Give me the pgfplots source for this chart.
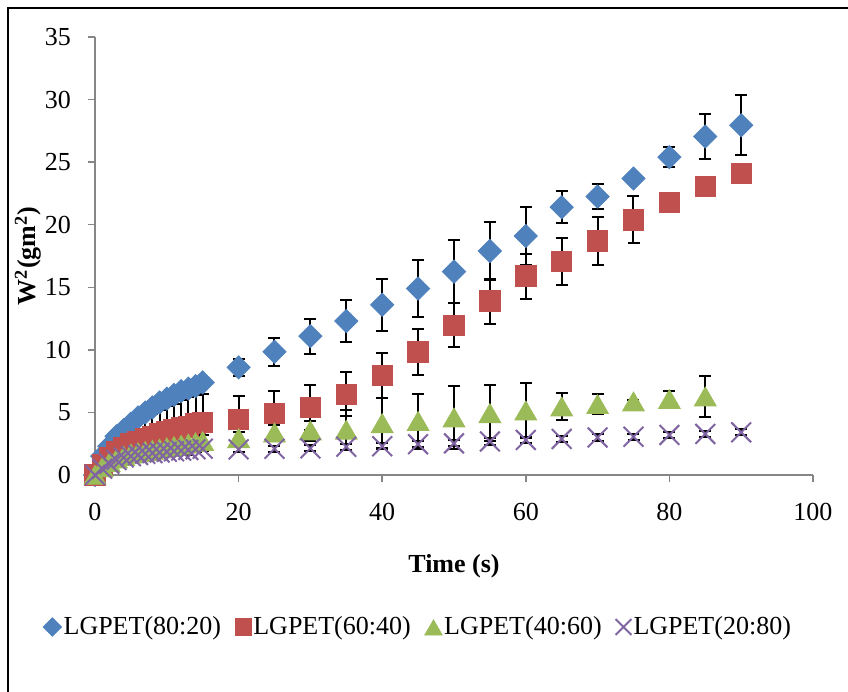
\documentclass[border=0pt]{standalone}
\usepackage{fontspec}
\setmainfont{Liberation Serif}
\usepackage{pgfplots}
\usepackage{pgfplotstable}
\pgfplotsset{compat=1.18}
\definecolor{sblue}{HTML}{4F81BD}
\definecolor{sred}{HTML}{C0504D}
\definecolor{sgreen}{HTML}{9BBB59}
\definecolor{spurple}{HTML}{8064A2}
\definecolor{axgray}{HTML}{868686}

\pgfplotstableread{
x y e
0 0 0
1 1.5 0.2
2 2.3 0.2
3 3.1 0.3
4 3.6 0.3
5 4.1 0.3
6 4.6 0.3
7 5.0 0.3
8 5.4 0.3
9 5.8 0.3
10 6.1 0.3
11 6.4 0.3
12 6.7 0.3
13 6.9 0.3
14 7.1 0.3
15 7.4 0.3
20 8.6 0.7
25 9.85 1.1
30 11.1 1.4
35 12.3 1.7
40 13.6 2.1
45 14.9 2.3
50 16.25 2.5
55 17.9 2.35
60 19.1 2.3
65 21.4 1.3
70 22.25 1.0
75 23.7 0.2
80 25.4 0.8
85 27.05 1.8
90 27.95 2.4
}\blue

\pgfplotstableread{
x y e
0 0 0
1 0.8 0.3
2 1.4 0.6
3 1.9 0.9
4 2.2 1.2
5 2.5 1.3
6 2.7 1.5
7 2.9 1.7
8 3.1 1.8
9 3.3 1.9
10 3.5 2.0
11 3.6 2.1
12 3.8 2.2
13 3.9 2.3
14 4.1 2.3
15 4.2 2.3
20 4.45 1.9
25 4.93 1.8
30 5.4 1.8
35 6.45 1.75
40 7.97 1.8
45 9.83 1.8
50 11.97 1.75
55 13.9 1.8
60 15.9 1.8
65 17.05 1.85
70 18.7 1.9
75 20.4 1.9
80 21.8 0.1
85 23.05 0.1
90 24.1 0.1
}\red

\pgfplotstableread{
x y e
0 0 0
1 0.6 0.3
2 1.0 0.4
3 1.3 0.5
4 1.5 0.5
5 1.7 0.5
6 1.8 0.5
7 1.9 0.5
8 2.0 0.5
9 2.1 0.5
10 2.2 0.5
11 2.3 0.5
12 2.4 0.5
13 2.5 0.5
14 2.6 0.5
15 2.7 0.5
20 2.93 0.5
25 3.38 0.6
30 3.55 0.8
35 3.6 1.6
40 4.13 2.0
45 4.3 2.2
50 4.58 2.5
55 4.93 2.25
60 5.14 2.2
65 5.46 1.1
70 5.65 0.8
75 5.86 0.1
80 6.05 0.65
85 6.26 1.65
}\green

\pgfplotstableread{
x y e
0 0 0
1 0.5 0.2
2 0.9 0.2
3 1.2 0.2
4 1.4 0.2
5 1.5 0.2
6 1.6 0.2
7 1.7 0.2
8 1.75 0.2
9 1.8 0.2
10 1.85 0.2
11 1.9 0.2
12 1.95 0.2
13 2.0 0.2
14 2.05 0.2
15 2.1 0.2
20 2.05 0.25
25 2.1 0.25
30 2.13 0.25
35 2.26 0.25
40 2.3 0.25
45 2.46 0.25
50 2.53 0.25
55 2.68 0.25
60 2.8 0.25
65 2.88 0.25
70 3.0 0.25
75 3.06 0.25
80 3.2 0.25
85 3.28 0.25
90 3.41 0.25
}\purple

\begin{document}
\fontsize{13}{15}\selectfont
\begin{tikzpicture}
\path[use as bounding box] (0,0) rectangle (424pt,346pt);
\draw[line width=1pt] (4pt,0) -- (4pt,342pt) -- (424pt,342pt);
\begin{axis}[
  at={(47.5pt,108.5pt)}, anchor=south west,
  scale only axis, width=359pt, height=219pt,
  xmin=0, xmax=100, ymin=0, ymax=35,
  xtick={0,20,...,100}, ytick={0,5,...,35},
  axis x line*=bottom, axis y line*=left,
  axis line style={-, draw=axgray, line width=0.75pt},
  tick style={draw=axgray, line width=0.75pt},
  tick align=outside, major tick length=3.5pt,
  /pgf/number format/assume math mode=true,
  ticklabel style={font=\fontsize{13}{15}\selectfont},
  yticklabel style={xshift=-4pt},
  xticklabel style={yshift=-6pt},
  every axis x label/.style={at={(rel axis cs:0.5,0)}, anchor=center, yshift=-45.5pt, font=\fontsize{13}{15}\selectfont\bfseries},
  every axis y label/.style={at={(rel axis cs:0,0.5)}, xshift=-33.5pt, rotate=90, anchor=center, font=\fontsize{13}{15}\selectfont\bfseries},
  xlabel={Time (s)},
  ylabel={W\textsuperscript{2}(gm\textsuperscript{2})},
  clip=false,
  only marks,
  legend image code/.code={\draw[#1, /tikz/every mark/.append style={scale=0.8}] plot coordinates {(0.14cm,0cm)};},
  legend columns=4,
  legend style={draw=none, fill=none, at={(rel axis cs:0.5,0)}, anchor=center, yshift=-76pt, xshift=-18pt,
    font=\fontsize{13}{15}\selectfont, inner sep=0pt,
    nodes={inner xsep=1pt},
    /tikz/every even column/.append style={column sep=6pt}},
  legend cell align=left,
  error bars/error bar style={line width=1pt, black},
  error bars/error mark options={line width=1pt, black, mark size=3pt, rotate=90},
]
\addplot[only marks, mark=square*, mark size=4.1pt, mark options={rotate=45, fill=sblue, draw=sblue},
  error bars/.cd, y dir=both, y explicit]
  table[x=x, y=y, y error=e] {\blue};
\addlegendentry{LGPET(80:20)}
\addplot[only marks, mark=square*, mark size=5.1pt, mark options={fill=sred, draw=sred},
  error bars/.cd, y dir=both, y explicit]
  table[x=x, y=y, y error=e] {\red};
\addlegendentry{LGPET(60:40)}
\addplot[only marks, mark=triangle*, mark size=6.3pt, mark options={fill=sgreen, draw=sgreen, yshift=-1.5pt},
  error bars/.cd, y dir=both, y explicit]
  table[x=x, y=y, y error=e] {\green};
\addlegendentry{LGPET(40:60)}
\addplot[only marks, mark=x, mark size=7pt, mark options={draw=spurple, line width=1pt},
  error bars/.cd, y dir=both, y explicit]
  table[x=x, y=y, y error=e] {\purple};
\addlegendentry{LGPET(20:80)}
\end{axis}
\end{tikzpicture}
\end{document}
